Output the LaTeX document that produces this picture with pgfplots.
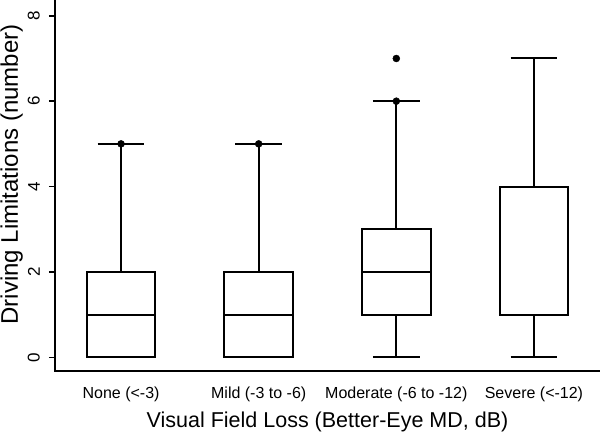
\documentclass[border=0pt]{standalone}
\usepackage{fontspec}
\setmainfont{Liberation Sans}
\usepackage{pgfplots}
\pgfplotsset{compat=1.18}
\usepgfplotslibrary{statistics}
\begin{document}
\begin{tikzpicture}
\useasboundingbox (0,0) rectangle (600pt,432pt);
\begin{axis}[
  at={(55pt,61pt)}, anchor=south west,
  scale only axis, width=545pt, height=371pt,
  xmin=0.52, xmax=4.48, ymin=-0.32, ymax=8.37,
  axis lines*=left,
  axis line style={-, line width=1.8pt, draw=black},
  xtick={1,2,3,4},
  xticklabels={None (<-3), Mild (-3 to -6), Moderate (-6 to -12), Severe (<-12)},
  xtick style={draw=none},
  ytick={0,2,4,6,8},
  tick align=outside, major tick length=6pt,
  ytick style={line width=1.6pt, draw=black},
  /pgf/number format/assume math mode=true,
  yticklabel style={rotate=90, anchor=south, inner sep=0pt, font=\fontsize{17}{20}\selectfont},
  yticklabel shift=9pt,
  xticklabel style={anchor=base, inner sep=0pt, font=\fontsize{16}{19}\selectfont, yshift=-21pt},
  xlabel={Visual Field Loss (Better-Eye MD, dB)},
  xlabel style={at={(axis description cs:0.5,-0.151)}, anchor=base, inner sep=0pt, font=\fontsize{21.5}{25}\selectfont},
  ylabel={Driving Limitations (number)},
  ylabel style={at={(axis description cs:-0.068,0.53)}, anchor=base, inner sep=0pt, font=\fontsize{24}{28}\selectfont},
  boxplot/draw direction=y,
  boxplot/box extend=0.5,
  boxplot/whisker extend=0.34,
  boxplot/every whisker/.style={line width=2pt, draw=black},
  boxplot/every box/.style={line width=2pt, draw=black},
  boxplot/every median/.style={line width=2pt, draw=black},
  clip=false,
]
\addplot[draw=black, line width=2pt, mark=*, mark size=3.5pt, mark options={fill=black, draw=black, line width=0.4pt},
  boxplot prepared={draw position=1, lower whisker=0, lower quartile=0, median=1, upper quartile=2, upper whisker=5}]
  coordinates {(0,5)};
\addplot[draw=black, line width=2pt, mark=*, mark size=3.5pt, mark options={fill=black, draw=black, line width=0.4pt},
  boxplot prepared={draw position=2, lower whisker=0, lower quartile=0, median=1, upper quartile=2, upper whisker=5}]
  coordinates {(0,5)};
\addplot[draw=black, line width=2pt, mark=*, mark size=3.5pt, mark options={fill=black, draw=black, line width=0.4pt},
  boxplot prepared={draw position=3, lower whisker=0, lower quartile=1, median=2, upper quartile=3, upper whisker=6}]
  coordinates {(0,6) (0,7)};
\addplot[draw=black, line width=2pt, mark=*, mark size=3.5pt, mark options={fill=black, draw=black, line width=0.4pt},
  boxplot prepared={draw position=4, lower whisker=0, lower quartile=1, median=1, upper quartile=4, upper whisker=7}]
  coordinates {};
\end{axis}
\fill[black] (54.1pt,59.6pt) rectangle (600pt,62.4pt);
\end{tikzpicture}
\end{document}
